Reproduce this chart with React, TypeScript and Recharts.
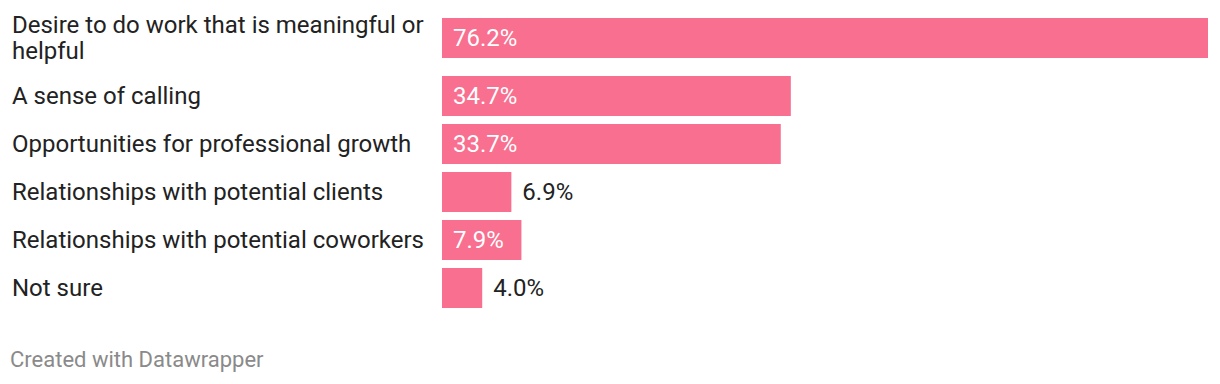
import { BarChart, Bar, XAxis, YAxis, LabelList } from "recharts";

const categories = [
  "Desire to do work that is meaningful or helpful",
  "A sense of calling",
  "Opportunities for professional growth",
  "Relationships with potential clients",
  "Relationships with potential coworkers",
  "Not sure",
];
const values = [76.2, 34.7, 33.7, 6.9, 7.9, 4.0];

const BAR_COLOR = "#f86f8f";
const FONT = "Roboto, 'Noto Sans', sans-serif";
const LABEL_SIZE = 24;
const MAX_CHARS = 40;
const maxValue = Math.max(...values);

function wrap(text: string): string[] {
  const words = text.split(" ");
  const lines: string[] = [];
  let cur = "";
  for (const w of words) {
    const next = cur ? cur + " " + w : w;
    if (next.length > MAX_CHARS && cur) {
      lines.push(cur);
      cur = w;
    } else {
      cur = next;
    }
  }
  if (cur) lines.push(cur);
  return lines;
}

// rough Roboto advance widths
function textWidth(s: string, size: number): number {
  let w = 0;
  for (const c of s) {
    if (c === ".") w += 0.263;
    else if (c === "%") w += 0.732;
    else w += 0.5615;
  }
  return w * size;
}

function fmt(v: number) {
  return `${v.toFixed(1)}%`;
}

interface TickProps {
  y?: number;
  payload?: { value: string };
}

function CategoryTick({ y, payload }: TickProps) {
  if (y == null || !payload) return null;
  const lines = wrap(payload.value);
  const lh = 26;
  const startY = y - ((lines.length - 1) * lh) / 2;
  return (
    <text
      x={12}
      y={startY}
      fill="#222"
      fontSize={LABEL_SIZE}
      fontFamily={FONT}
      textAnchor="start"
      dominantBaseline="central"
    >
      {lines.map((l, i) => (
        <tspan key={i} x={12} y={startY + i * lh}>
          {l}
        </tspan>
      ))}
    </text>
  );
}

interface ValueLabelProps {
  x?: number | string;
  y?: number | string;
  width?: number | string;
  height?: number | string;
  value?: number | string;
}

function ValueLabel(props: ValueLabelProps) {
  const x = Number(props.x);
  const y = Number(props.y);
  const width = Number(props.width);
  const height = Number(props.height);
  const label = fmt(Number(props.value));
  const inside = width >= textWidth(label, LABEL_SIZE) + 24;
  return (
    <text
      x={inside ? x + 11 : x + width + 11}
      y={y + height / 2}
      fill={inside ? "#fff" : "#222"}
      fontSize={LABEL_SIZE}
      fontFamily={FONT}
      dominantBaseline="central"
    >
      {label}
    </text>
  );
}

function Row({ name, value }: { name: string; value: number }) {
  const lines = wrap(name).length;
  const h = 48 + (lines - 1) * 20;
  return (
    <BarChart
      width={1220}
      height={h}
      layout="vertical"
      data={[{ name, value }]}
      margin={{ top: 0, right: 12, bottom: 0, left: 0 }}
    >
      <XAxis type="number" domain={[0, maxValue]} hide />
      <YAxis
        type="category"
        dataKey="name"
        width={442}
        axisLine={false}
        tickLine={false}
        tick={<CategoryTick />}
      />
      <Bar dataKey="value" fill={BAR_COLOR} barSize={40} isAnimationActive={false}>
        <LabelList dataKey="value" content={<ValueLabel />} />
      </Bar>
    </BarChart>
  );
}

export default function App() {
  return (
    <div
      style={{
        position: "absolute",
        left: 0,
        top: 0,
        width: 1220,
        height: 384,
        background: "#fff",
        fontFamily: FONT,
      }}
    >
      <div style={{ position: "absolute", top: 4, left: 0 }}>
        {categories.map((c, i) => (
          <Row key={c} name={c} value={values[i]} />
        ))}
      </div>
      <div
        style={{
          position: "absolute",
          left: 10,
          top: 348,
          fontSize: 22,
          color: "#8a8a8a",
          lineHeight: "24px",
        }}
      >
        Created with Datawrapper
      </div>
    </div>
  );
}
